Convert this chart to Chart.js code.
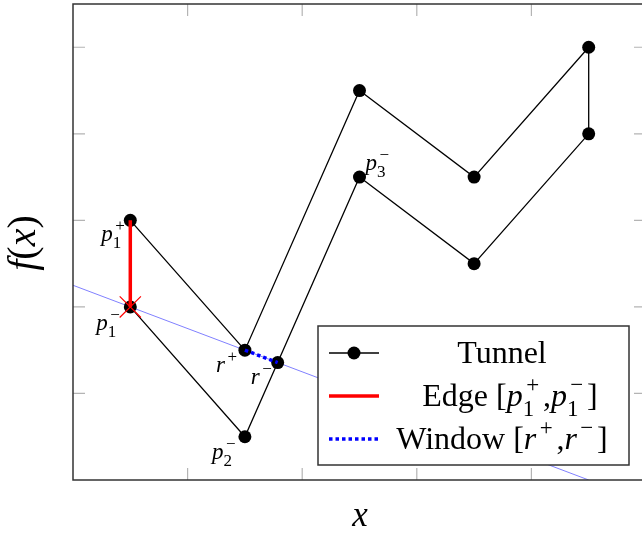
<!DOCTYPE html>
<html>
<head>
<meta charset="utf-8">
<script src="https://cdn.jsdelivr.net/npm/chart.js@4/dist/chart.umd.min.js"></script>
<style>
  html, body { margin: 0; padding: 0; background: #fff; overflow: hidden; }
  #wrap { width: 650px; height: 533px; }
  canvas { display: block; }
</style>
</head>
<body>
<div id="wrap"><canvas id="c" width="650" height="533"></canvas></div>
<script>
// Tunnel polygon: upper chain out to the right, then lower chain back (r- sits on the p3- -> p2- segment)
const tunnelX = [0.5, 1.5, 2.5, 3.5, 4.5, 4.5, 3.5, 2.5, 1.786, 1.5, 0.5];
const tunnelY = [3, 1.5, 4.5, 3.5, 5, 4, 2.5, 3.5, 1.357, 0.5, 2];

// Edge [p1+, p1-]
const edgeX = [0.5, 0.5];
const edgeY = [3, 2];

// Window [r+, r-]
const windowX = [1.5, 1.786];
const windowY = [1.5, 1.357];

// Supporting line through p1- and r+
const supportX = [0, 4.5];
const supportY = [2.25, 0];

// Marked point p1-
const markX = [0.5];
const markY = [2];

const xTicks = [1, 2, 3, 4];
const yTicks = [1, 2, 3, 4, 5];

// Point annotations: base letter, subscript, superscript, index into the tunnel arrays
const pointNames = [
  { base: 'p', sub: '1', sup: '+', at: 0 },
  { base: 'p', sub: '1', sup: '\u2212', at: 10 },
  { base: 'r', sub: '', sup: '+', at: 1 },
  { base: 'r', sub: '', sup: '\u2212', at: 8 },
  { base: 'p', sub: '2', sup: '\u2212', at: 9 },
  { base: 'p', sub: '3', sup: '\u2212', at: 7 }
];

const legendNames = ['Tunnel', 'Edge', 'Window'];

const zip = (xs, ys) => xs.map((x, i) => ({ x: x, y: ys[i] }));

const SERIF = '"Liberation Serif"';

// Draws a run of tokens; tokens with sub/sup get stacked scripts. Returns the width.
// Binary-operator scripts (+, −) get a wide box, as in TeX math fonts.
function mathRun(ctx, tokens, x, y, size, draw) {
  let cx = x;
  for (const tk of tokens) {
    ctx.font = (tk.it ? 'italic ' : 'normal ') + size + 'px ' + SERIF;
    if (draw) ctx.fillText(tk.t, cx, y);
    cx += ctx.measureText(tk.t).width;
    if (tk.sub || tk.sup) {
      const s = Math.round(size * 0.72);
      ctx.font = 'normal ' + s + 'px ' + SERIF;
      let w = 0;
      if (tk.sup) {
        const gw = ctx.measureText(tk.sup).width;
        const bw = Math.max(gw, s * 0.78);
        const ox = cx + size * 0.03;
        if (draw) ctx.fillText(tk.sup, ox + (bw - gw) / 2, y - size * 0.43);
        w = Math.max(w, bw + size * 0.03);
      }
      if (tk.sub) {
        if (draw) ctx.fillText(tk.sub, cx, y + size * 0.3);
        w = Math.max(w, ctx.measureText(tk.sub).width);
      }
      cx += w + size * 0.04;
    }
  }
  return cx - x;
}

// Offsets (px) of each annotation's baseline-left from its point
const nameOffsets = [
  [-29, 21], [-34, 23], [-29, 22], [-27, 21], [-33, 22], [6, -7]
];

const framePlugin = {
  id: 'frame',
  beforeDatasetsDraw(chart) {
    const { ctx, chartArea: a, scales } = chart;
    ctx.save();
    ctx.strokeStyle = '#b4b4b4';
    ctx.lineWidth = 1.2;
    const L = 12;
    ctx.beginPath();
    xTicks.forEach(v => {
      const px = scales.x.getPixelForValue(v);
      ctx.moveTo(px, a.bottom); ctx.lineTo(px, a.bottom - L);
      ctx.moveTo(px, a.top); ctx.lineTo(px, a.top + L);
    });
    yTicks.forEach(v => {
      const py = scales.y.getPixelForValue(v);
      ctx.moveTo(a.left, py); ctx.lineTo(a.left + L, py);
      ctx.moveTo(a.right, py); ctx.lineTo(a.right - L, py);
    });
    ctx.stroke();
    ctx.restore();
  },
  afterDraw(chart) {
    const { ctx, chartArea: a, scales } = chart;
    ctx.save();
    // frame
    ctx.strokeStyle = '#333';
    ctx.lineWidth = 1.5;
    ctx.strokeRect(a.left, a.top, a.right - a.left, a.bottom - a.top);

    ctx.fillStyle = '#000';
    ctx.textBaseline = 'alphabetic';
    ctx.textAlign = 'left';

    // point annotations
    pointNames.forEach((n, i) => {
      const px = scales.x.getPixelForValue(tunnelX[n.at]);
      const py = scales.y.getPixelForValue(tunnelY[n.at]);
      const [dx, dy] = nameOffsets[i];
      mathRun(ctx, [{ t: n.base, it: true, sub: n.sub, sup: n.sup }], px + dx, py + dy, 23, true);
    });

    // axis titles
    const xt = [{ t: 'x', it: true }];
    const xw = mathRun(ctx, xt, 0, 0, 35, false);
    mathRun(ctx, xt, 360 - xw / 2, 526, 35, true);

    ctx.save();
    ctx.translate(35, 243);
    ctx.rotate(-Math.PI / 2);
    const ft = [{ t: 'f', it: true }, { t: '(' }, { t: 'x', it: true }, { t: ')' }];
    const fw = mathRun(ctx, ft, 0, 0, 40, false);
    mathRun(ctx, ft, -fw / 2, 0, 40, true);
    ctx.restore();

    // legend
    const bx = 318, by = 326, bw = 311, bh = 139;
    ctx.fillStyle = '#fff';
    ctx.fillRect(bx, by, bw, bh);
    ctx.strokeStyle = '#333';
    ctx.lineWidth = 1.5;
    ctx.strokeRect(bx, by, bw, bh);

    const rows = [353, 396, 439];
    const s0 = 329, s1 = 379;
    // Tunnel sample
    ctx.strokeStyle = '#000'; ctx.lineWidth = 1.3; ctx.setLineDash([]);
    ctx.beginPath(); ctx.moveTo(s0, rows[0]); ctx.lineTo(s1, rows[0]); ctx.stroke();
    ctx.fillStyle = '#000';
    ctx.beginPath(); ctx.arc((s0 + s1) / 2, rows[0], 6.5, 0, Math.PI * 2); ctx.fill();
    // Edge sample
    ctx.strokeStyle = '#ff0000'; ctx.lineWidth = 3.5;
    ctx.beginPath(); ctx.moveTo(s0, rows[1]); ctx.lineTo(s1, rows[1]); ctx.stroke();
    // Window sample
    ctx.strokeStyle = '#0000ff'; ctx.lineWidth = 3.5; ctx.setLineDash([3.5, 3]);
    ctx.beginPath(); ctx.moveTo(s0, rows[2]); ctx.lineTo(s1, rows[2]); ctx.stroke();
    ctx.setLineDash([]);

    const texts = [
      [{ t: legendNames[0] }],
      [{ t: legendNames[1] + ' [' }, { t: 'p', it: true, sub: '1', sup: '+' }, { t: ',' },
       { t: 'p', it: true, sub: '1', sup: '\u2212' }, { t: ']' }],
      [{ t: legendNames[2] + ' [' }, { t: 'r', it: true, sup: '+' }, { t: ',' },
       { t: 'r', it: true, sup: '\u2212' }, { t: ']' }]
    ];
    ctx.fillStyle = '#000';
    const centers = [502, 510, 502];
    texts.forEach((tk, i) => {
      const w = mathRun(ctx, tk, 0, 0, 32, false);
      mathRun(ctx, tk, centers[i] - w / 2, rows[i] + 10, 32, true);
    });
    ctx.restore();
  }
};

function build() {
  new Chart(document.getElementById('c'), {
    type: 'scatter',
    data: {
      datasets: [
        {
          label: 'support',
          data: zip(supportX, supportY),
          showLine: true,
          borderColor: '#8080ff',
          borderWidth: 1,
          pointRadius: 0,
          order: 5
        },
        {
          label: legendNames[0],
          data: zip(tunnelX, tunnelY),
          showLine: true,
          borderColor: '#000',
          borderWidth: 1.3,
          pointRadius: 6.5,
          pointBackgroundColor: '#000',
          pointBorderWidth: 0,
          order: 4
        },
        {
          label: legendNames[1],
          data: zip(edgeX, edgeY),
          showLine: true,
          borderColor: '#ff0000',
          borderWidth: 3.5,
          pointRadius: 0,
          order: 3
        },
        {
          label: legendNames[2],
          data: zip(windowX, windowY),
          showLine: true,
          borderColor: '#0000ff',
          borderWidth: 3.5,
          borderDash: [3.5, 3],
          pointRadius: 0,
          order: 2
        },
        {
          label: 'mark',
          data: zip(markX, markY),
          showLine: false,
          pointStyle: 'crossRot',
          pointRadius: 15,
          pointBorderColor: '#ff0000',
          pointBorderWidth: 1.2,
          order: 1
        }
      ]
    },
    options: {
      responsive: false,
      animation: false,
      events: [],
      layout: { autoPadding: false, padding: { left: 73, top: 4, right: 4, bottom: 53 } },
      plugins: { legend: { display: false }, tooltip: { enabled: false } },
      scales: {
        x: { type: 'linear', min: 0, max: 5, display: false },
        y: { type: 'linear', min: 0, max: 5.5, display: false }
      }
    },
    plugins: [framePlugin]
  });
}

Promise.all([
  document.fonts.load('italic 22px "Liberation Serif"'),
  document.fonts.load('normal 22px "Liberation Serif"')
]).then(build, build);
</script>
</body>
</html>
